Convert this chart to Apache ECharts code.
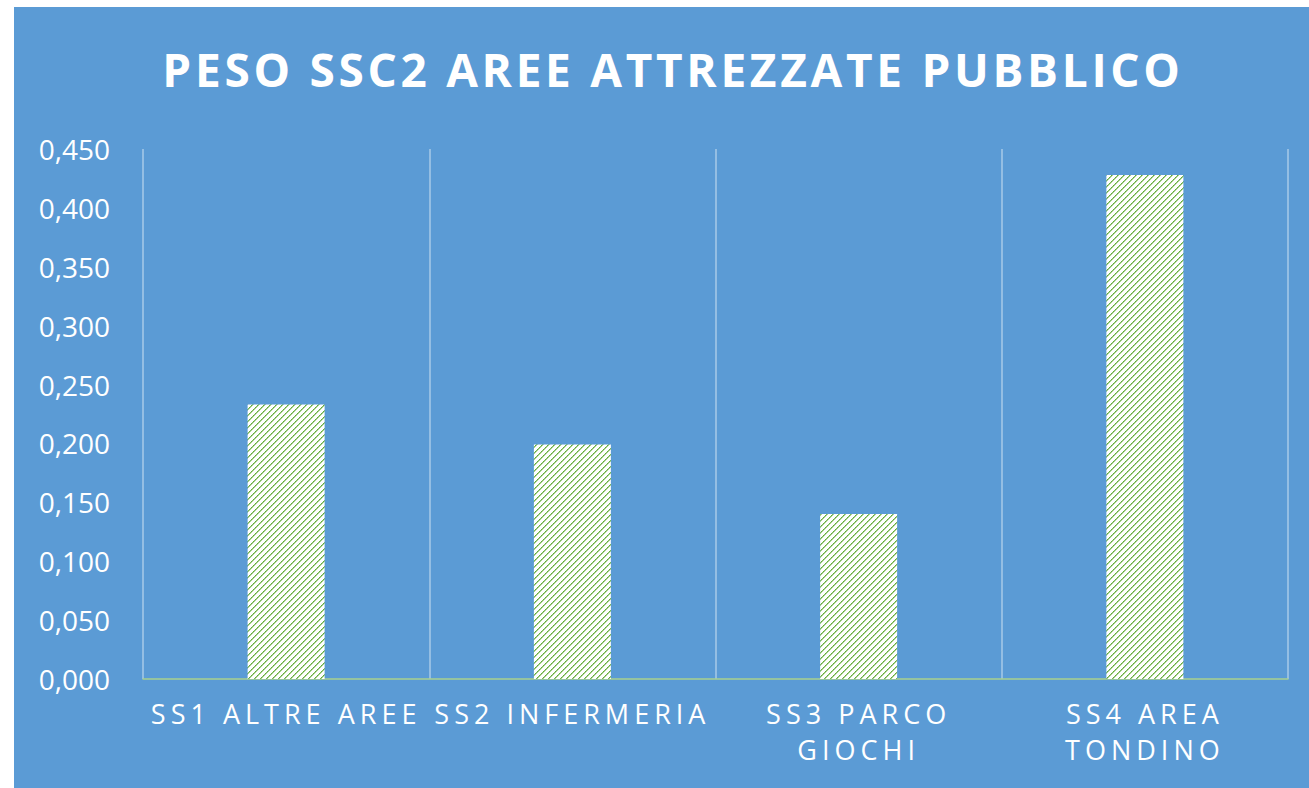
<!DOCTYPE html>
<html>
<head>
<meta charset="utf-8">
<script src="https://cdn.jsdelivr.net/npm/echarts@6/dist/echarts.min.js"></script>
<style>
  html, body { margin: 0; padding: 0; background: #fff; }
  #chart { position: absolute; left: 14px; top: 7px; width: 1295px; height: 781px; background: #5B9BD5; }
</style>
</head>
<body>
<div id="chart"></div>
<script>
const title = "PESO SSC2 AREE ATTREZZATE PUBBLICO";
const categories = ["SS1 ALTRE AREE", "SS2 INFERMERIA", "SS3 PARCO\nGIOCHI", "SS4 AREA\nTONDINO"];
const values = [0.233, 0.199, 0.140, 0.428];
const yTicks = { min: 0, max: 0.45, interval: 0.05 };

// hatch tile: green dotted "/" lines on white
function hatch() {
  const c = document.createElement("canvas");
  c.width = 6; c.height = 6;
  const ctx = c.getContext("2d");
  ctx.fillStyle = "#ffffff";
  ctx.fillRect(0, 0, 6, 6);
  for (let i = 0; i < 6; i++) {
    ctx.fillStyle = i % 2 ? "#62A83A" : "#7DBB58";
    ctx.fillRect(i, 5 - i, 1, 1);
    ctx.fillStyle = "#A9D18E";
    ctx.fillRect((i + 1) % 6, 5 - i, 1, 1);
  }
  return c;
}

const chart = echarts.init(document.getElementById("chart"), null, { renderer: "svg" });
chart.setOption({
  animation: false,
  title: {
    text: title,
    left: 654,
    top: 34,
    textAlign: "center",
    textStyle: { color: "#fff", fontFamily: "Open Sans", fontWeight: "bold", fontSize: 46 }
  },
  grid: { left: 129, right: 21, top: 142, bottom: 109 },
  xAxis: {
    type: "category",
    data: categories,
    axisTick: { show: false },
    axisLine: { lineStyle: { color: "#A9D18E", width: 1.5 } },
    splitLine: { show: true, lineStyle: { color: "rgba(255,255,255,0.35)", width: 2 } },
    axisLabel: { color: "#fff", fontFamily: "Open Sans", fontSize: 27, lineHeight: 36, margin: 16, interval: 0 }
  },
  yAxis: {
    type: "value",
    min: yTicks.min,
    max: yTicks.max,
    interval: yTicks.interval,
    axisLine: { show: false },
    axisTick: { show: false },
    splitLine: { show: false },
    axisLabel: {
      color: "#fff", fontFamily: "Open Sans", fontSize: 28, margin: 33,
      formatter: (v) => v.toFixed(3).replace(".", ",")
    }
  },
  series: [{
    type: "bar",
    data: values,
    barWidth: 77,
    itemStyle: { color: { image: hatch(), repeat: "repeat" } }
  }]
});

// spread letters like the original
function spread() {
  document.querySelectorAll("#chart text").forEach((t) => {
    const s = t.textContent;
    if (s === title) t.style.letterSpacing = "3.7px";
    else if (/[A-Z]/.test(s)) t.style.letterSpacing = "5px";
  });
}
spread();
chart.on("finished", spread);
</script>
</body>
</html>
